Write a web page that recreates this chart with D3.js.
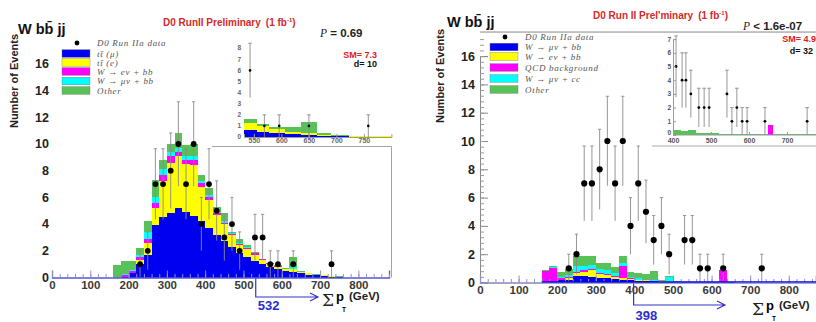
<!DOCTYPE html>
<html>
<head>
<meta charset="utf-8">
<script src="https://cdn.jsdelivr.net/npm/d3@7"></script>
<style>
  body { margin: 0; background: #fff; }
  svg { display: block; font-family: "Liberation Sans", Arial, sans-serif; }
</style>
</head>
<body>
<svg id="chart" width="816" height="322"></svg>
<script>
/* W bb jj — sum pT, two panels (left: ttbar-like MC, right: W+bb MC) */

// data points (same events in both panels)
const dataX = [230, 250, 270, 290, 310, 330, 350, 370, 390, 410, 430, 450, 470, 490, 530, 550, 570, 590, 630, 730];
const dataN = [1, 2, 7, 7, 8, 10, 7, 10, 4, 7, 5, 3, 4, 2, 3, 3, 1, 1, 1, 1];

// left panel stack, 20 GeV bins
const leftEdges = [160, 180, 200, 220, 240, 260, 280, 300, 320, 340, 360, 380, 400, 420, 440, 460,
  480, 500, 520, 540, 560, 580, 600, 620, 640, 660, 680, 700, 720, 740, 760];
const leftBlue = [0, 0.05, 0.3, 1.0, 1.7, 3.9, 4.5, 4.8, 5.2, 4.9, 4.6, 4.2, 3.7, 3.2, 2.7, 2.3, 1.8, 1.5, 1.2, 1.0, 0.8, 0.6, 0.5, 0.4, 0.3, 0.2, 0.15, 0.1, 0.05, 0.03];
const leftYellow = [0, 0, 0.05, 0.3, 0.9, 1.3, 2.7, 3.8, 3.9, 3.6, 3.8, 2.6, 2.1, 1.5, 1.3, 0.9, 0.6, 0.6, 0.5, 0.3, 0.2, 0.2, 0.15, 0.2, 0.1, 0.1, 0.05, 0.05, 0.03, 0.02];
const leftMagenta = [0, 0.1, 0.1, 0.2, 0.3, 0.4, 0.5, 0.5, 0.3, 0.3, 0.4, 0.3, 0.2, 0.1, 0.1, 0.05, 0.1, 0.1, 0.1, 0.05, 0.05, 0.05, 0, 0.05, 0, 0, 0, 0, 0, 0];
const leftCyan = [0, 0.1, 0.1, 0.2, 0.5, 0.4, 0.4, 0.3, 0.3, 0.3, 0.3, 0.1, 0.2, 0.1, 0.1, 0.05, 0.05, 0.1, 0.05, 0, 0, 0, 0, 0.1, 0, 0, 0, 0, 0, 0];
const leftGreen = [0.9, 0.95, 0.65, 0.5, 0.8, 1.3, 0.7, 0.6, 1.1, 0.8, 0.9, 0.5, 0.5, 0.4, 0.6, 0.1, 0.35, 0.1, 0.05, 0.05, 0.05, 0.05, 0.05, 0.8, 0.05, 0.05, 0.05, 0.05, 0.05, 0.03];

// right panel stack
const rightEdges = [160, 180, 200, 220, 240, 260, 280, 300, 320, 340, 360, 380, 400, 420, 440, 460,
  480, 500, 520, 540, 560, 580, 600, 620, 640, 660];
const rightBlue = [0, 0.05, 0.15, 0.2, 0.45, 0.45, 0.4, 0.35, 0.3, 0.25, 0.2, 0.15, 0.1, 0.1, 0.08, 0.05, 0.05, 0.03, 0.02, 0.02, 0.02, 0.02, 0.02, 0, 0.02];
const rightYellow = [0, 0, 0.05, 0.1, 0.2, 0.3, 0.45, 0.25, 0.2, 0.15, 0.1, 0.1, 0.05, 0.05, 0.05, 0.03, 0.03, 0.02, 0.01, 0.01, 0.01, 0, 0, 0, 0];
const rightMagenta = [0.8, 1.0, 0.1, 0.1, 0.1, 0.1, 0.1, 0.05, 0.1, 0.05, 0.9, 0.05, 0.05, 0, 0, 0, 0, 0, 0, 0, 0, 0, 0, 0.9, 0];
const rightCyan = [0, 0.05, 0.1, 0.15, 0.4, 0.35, 0.3, 0.3, 0.25, 0.2, 0.15, 0.1, 0.1, 0.05, 0.05, 0.05, 0.3, 0.03, 0.02, 0.01, 0.01, 0.01, 0.01, 0, 0];
const rightGreen = [0.05, 0.07, 0.35, 0.38, 0.72, 0.67, 0.6, 0.4, 0.5, 0.45, 0.52, 0.32, 0.35, 0.37, 0.66, 0.05, 0.08, 0.02, 0.02, 0.02, 0.02, 0.02, 0.02, 0, 0.02];

// left inset (sum pT > 532)
const lInsetEdges = [532, 555, 578, 606, 636, 664, 690, 722, 800];
const lInsetBlue = [0.63, 0.42, 0.33, 0.24, 0.15, 0.1, 0.05, 0.03];
const lInsetYellow = [0.67, 0.58, 0.39, 0.24, 0.2, 0.1, 0.05, 0.02];
const lInsetGreen = [0.32, 0.17, 0.21, 0.45, 0.97, 0.13, 0.08, 0.05];
const lInsetX = [543, 569, 596, 650, 758];
const lInsetN = [6, 1, 1, 1, 1];

// right inset (sum pT > 398)
const rInsetEdges = [400, 420, 440, 460, 480, 520, 560, 640, 650, 662, 800];
const rInsetMagenta = [0, 0, 0, 0, 0, 0, 0, 0, 0.73, 0];
const rInsetGreen = [0.35, 0.3, 0.35, 0.15, 0.12, 0.1, 0.1, 0.05, 0, 0.05];
const rInsetX = [408, 424, 434, 447, 468, 482, 495, 542, 555, 568, 582, 595, 642, 753];
const rInsetN = [5, 4, 4, 3, 2, 2, 2, 3, 1, 2, 1, 1, 1, 1];

const yTicks = [0, 2, 4, 6, 8, 10, 12, 14, 16];
const xTicks = [0, 100, 200, 300, 400, 500, 600, 700, 800];

const leftLegend = ["D0 Run IIa data", "tt\u0304 (\u03bc)", "tt\u0304 (e)", "W \u2192 e\u03bd  +  bb", "W \u2192 \u03bc\u03bd  +  bb", "Other"];
const rightLegend = ["D0 Run IIa data", "W \u2192 \u03bc\u03bd + bb", "W \u2192 e\u03bd  +  bb", "QCD background", "W \u2192 \u03bc\u03bd  +  cc", "Other"];

const KEYS = ["blue", "yellow", "magenta", "cyan", "green"];
const COLORS = { blue: "#0000f0", yellow: "#ffff00", magenta: "#ff00ff", cyan: "#00ffff", green: "#58c158" };

const svg = d3.select("#chart");

function drawStack(g, xs, ys, edges, comps) {
  const rows = edges.slice(0, -1).map((e, i) => {
    const r = { x0: e, x1: edges[i + 1] };
    KEYS.forEach(k => r[k] = comps[k] ? comps[k][i] : 0);
    return r;
  });
  const series = d3.stack().keys(KEYS)(rows);
  g.append("g").attr("shape-rendering", "crispEdges").selectAll("g")
    .data(series)
    .join("g")
    .attr("fill", d => COLORS[d.key])
    .selectAll("rect")
    .data(d => d.filter(s => s[1] - s[0] > 0))
    .join("rect")
    .attr("x", d => xs(d.data.x0))
    .attr("width", d => xs(d.data.x1) - xs(d.data.x0))
    .attr("y", d => ys(d[1]))
    .attr("height", d => ys(d[0]) - ys(d[1]));
}

function drawPoints(g, xs, ys, xv, nv, r, cap) {
  const pts = xv.map((x, i) => ({ x, n: nv[i] }));
  const eb = g.append("g").attr("stroke", "#8a8a8a").attr("stroke-width", 0.9);
  pts.forEach(p => {
    const lo = Math.max(0, p.n - Math.sqrt(p.n));
    const hi = p.n + Math.sqrt(p.n);
    eb.append("line").attr("x1", xs(p.x)).attr("x2", xs(p.x)).attr("y1", ys(lo)).attr("y2", ys(hi));
    eb.append("line").attr("x1", xs(p.x) - cap).attr("x2", xs(p.x) + cap).attr("y1", ys(hi)).attr("y2", ys(hi));
  });
  g.append("g").selectAll("circle")
    .data(pts)
    .join("circle")
    .attr("cx", d => xs(d.x))
    .attr("cy", d => ys(d.n))
    .attr("r", r)
    .attr("fill", "#000");
}

function drawXAxis(g, xs, y0, minorMax, lineColor) {
  const ax = g.append("g").attr("transform", `translate(0,${y0})`)
    .call(d3.axisBottom(xs).tickValues(xTicks).tickSize(-7).tickPadding(3.5).tickFormat(d3.format("d")));
  ax.select(".domain").attr("stroke", lineColor).attr("stroke-width", 1.3);
  ax.selectAll(".tick line").attr("stroke", "#9090c8");
  ax.selectAll("text").attr("font-weight", "bold").attr("font-size", 11.5).attr("fill", "#3a3a3a")
    .attr("font-family", "Liberation Sans, Arial, sans-serif");
  g.append("g").attr("transform", `translate(0,${y0})`)
    .call(d3.axisBottom(xs).tickValues(d3.range(0, minorMax, 20)).tickSize(-3.5).tickFormat(""))
    .call(a => a.select(".domain").remove())
    .selectAll(".tick line").attr("stroke", "#9090c8");
}

function drawLegend(g, x0, yDot, rows, names) {
  g.append("circle").attr("cx", x0 + 15).attr("cy", yDot).attr("r", 2.4).attr("fill", "#000");
  rows.forEach((yy, i) => {
    g.append("rect").attr("x", x0).attr("y", yy - 3.8).attr("width", 28).attr("height", 7.6)
      .attr("fill", COLORS[KEYS[i]]).attr("stroke", "#777").attr("stroke-width", 0.4);
  });
  const ys = [yDot].concat(rows);
  names.forEach((t, i) => {
    g.append("text").attr("x", x0 + 35).attr("y", ys[i]).attr("dy", "0.35em")
      .attr("font-family", "Liberation Serif, Times New Roman, serif").attr("font-style", "italic")
      .attr("font-size", 9).attr("letter-spacing", 0.7).attr("fill", "#555").text(t);
  });
}

function sumLabel(g, x, y) {
  g.append("text").attr("x", x + 1).attr("y", y + 9).attr("font-family", "DejaVu Serif, serif")
    .attr("font-size", 17).attr("fill", "#222").text("\u03a3");
  g.append("text").attr("x", x + 15).attr("y", y + 4).attr("font-weight", "bold").attr("font-size", 13).text("p");
  g.append("text").attr("x", x + 21).attr("y", y + 15).attr("font-weight", "bold").attr("font-size", 6.5).text("T");
  g.append("text").attr("x", x + 28).attr("y", y + 3).attr("font-weight", "bold").attr("font-size", 11.5).attr("fill", "#222").text("(GeV)");
}

function cutArrow(g, x, yTop, yArr, xEnd, label, labelY) {
  g.append("path")
    .attr("d", `M${x},${yTop}V${yArr}H${xEnd}M${xEnd - 8},${yArr - 4}L${xEnd},${yArr}L${xEnd - 8},${yArr + 4}`)
    .attr("fill", "none").attr("stroke", "#3535c8").attr("stroke-width", 1.2);
  g.append("text").attr("x", x + 2).attr("y", labelY).attr("dy", "0.35em")
    .attr("font-weight", "bold").attr("font-size", 13).attr("fill", "#2b2bcf").text(label);
}

function wbbLabel(g, x, y) {
  g.append("text").attr("x", x).attr("y", y).attr("font-weight", "bold").attr("font-size", 14.5).attr("fill", "#111")
    .text("W bb\u0304 jj");
}

function runTitle(g, x, y, txt) {
  const t = g.append("text").attr("x", x).attr("y", y).attr("font-weight", "bold").attr("font-size", 10).attr("fill", "#d42a2a");
  t.append("tspan").text(txt);
  t.append("tspan").attr("dx", 5).text("(1 fb");
  t.append("tspan").attr("dy", -4).attr("font-size", 6).text("-1");
  t.append("tspan").attr("dy", 4).text(")");
}

/* ── left panel ── */
{
  const g = svg.append("g");
  const xs = d3.scaleLinear().domain([0, 880]).range([52, 389]);
  const ys = d3.scaleLinear().domain([0, 16]).range([277.5, 63.9]);

  drawStack(g, xs, ys, leftEdges, { blue: leftBlue, yellow: leftYellow, magenta: leftMagenta, cyan: leftCyan, green: leftGreen });
  drawPoints(g, xs, ys, dataX, dataN, 2.9, 1.6);

  // frame pieces
  g.append("path").attr("d", `M212,146.5H391.5V${ys(0)}`).attr("fill", "none").attr("stroke", "#999").attr("stroke-width", 0.9);
  drawXAxis(g, xs, ys(0), 881, "#5656d6");

  g.selectAll(".ylab").data(yTicks).join("text")
    .attr("x", 49).attr("y", d => ys(d)).attr("dy", "0.35em").attr("text-anchor", "end")
    .attr("font-weight", "bold").attr("font-size", 12.5).attr("fill", "#222").text(d => d);

  g.append("text").attr("transform", "translate(18,81) rotate(-90)").attr("text-anchor", "middle")
    .attr("font-weight", "bold").attr("font-size", 11).attr("fill", "#222").text("Number of Events");

  wbbLabel(g, 18, 34);
  runTitle(g, 163, 26, "D0 RunII Preliminary");

  const pt = g.append("text").attr("x", 320).attr("y", 37).attr("font-size", 11.5).attr("fill", "#222");
  pt.append("tspan").attr("font-family", "Liberation Serif, serif").attr("font-style", "italic").text("P");
  pt.append("tspan").attr("font-weight", "bold").text(" = 0.69");
  g.append("text").attr("x", 377).attr("y", 58).attr("text-anchor", "end").attr("font-weight", "bold").attr("font-size", 9).attr("fill", "#e02020").text("SM= 7.3");
  g.append("text").attr("x", 377).attr("y", 67).attr("text-anchor", "end").attr("font-weight", "bold").attr("font-size", 9).attr("fill", "#111").text("d= 10");

  drawLegend(g, 62, 43, [53.5, 62.5, 71.5, 81, 90.5], leftLegend);

  // inset
  const ix = d3.scaleLinear().domain([532, 800]).range([244, 391.4]);
  const iy = d3.scaleLinear().domain([0, 8]).range([137, 48.2]);
  drawStack(g, ix, iy, lInsetEdges, { blue: lInsetBlue, yellow: lInsetYellow, green: lInsetGreen });
  drawPoints(g, ix, iy, lInsetX, lInsetN, 1.3, 1.8);
  const iax = g.append("g").attr("transform", `translate(0,${iy(0)})`)
    .call(d3.axisBottom(ix).tickValues([550, 600, 650, 700, 750]).tickSize(-3).tickPadding(1.5));
  iax.select(".domain").attr("stroke", "#9a9a9a");
  iax.selectAll(".tick line").attr("stroke", "#9a9a9a");
  iax.selectAll("text").attr("font-size", 7).attr("font-weight", "bold").attr("fill", "#666");
  g.selectAll(".iylab").data(d3.range(0, 9)).join("text")
    .attr("x", 241).attr("y", d => iy(d)).attr("dy", "0.35em").attr("text-anchor", "end")
    .attr("font-size", 6.5).attr("font-weight", "bold").attr("fill", "#666").text(d => d);

  cutArrow(g, xs(532), ys(0) + 1, 297, 318, "532", 305);
  sumLabel(g, 321, 297);
}

/* ── right panel ── */
{
  const g = svg.append("g");
  const xs = d3.scaleLinear().domain([0, 870]).range([480, 815.8]);
  const ys = d3.scaleLinear().domain([0, 16]).range([282.5, 56.1]);

  drawStack(g, xs, ys, rightEdges, { blue: rightBlue, yellow: rightYellow, magenta: rightMagenta, cyan: rightCyan, green: rightGreen });
  drawPoints(g, xs, ys, dataX, dataN, 3.1, 1.6);

  // top frame
  g.append("line").attr("x1", xs(0)).attr("x2", 816).attr("y1", ys(17.7)).attr("y2", ys(17.7))
    .attr("stroke", "#888").attr("stroke-width", 1);

  const yax = g.append("g").attr("transform", `translate(${xs(0)},0)`)
    .call(d3.axisLeft(ys).tickValues(yTicks).tickSize(-8).tickPadding(5));
  yax.select(".domain").attr("stroke", "#888");
  yax.selectAll(".tick line").attr("stroke", "#888");
  yax.selectAll("text").attr("font-weight", "bold").attr("font-size", 12.5).attr("fill", "#222")
    .attr("font-family", "Liberation Sans, Arial, sans-serif");
  g.append("g").attr("transform", `translate(${xs(0)},0)`)
    .call(d3.axisLeft(ys).tickValues(d3.range(0, 17.6, 0.4)).tickSize(-4).tickFormat(""))
    .call(a => a.select(".domain").remove())
    .selectAll(".tick line").attr("stroke", "#999");

  drawXAxis(g, xs, ys(0), 871, "#8888bb");
  // blue floor of the W+bb stack along the baseline
  g.append("line").attr("x1", xs(160)).attr("x2", 816).attr("y1", ys(0) - 0.6).attr("y2", ys(0) - 0.6)
    .attr("stroke", COLORS.blue).attr("stroke-width", 1.3);

  g.append("text").attr("transform", "translate(444,76) rotate(-90)").attr("text-anchor", "middle")
    .attr("font-weight", "bold").attr("font-size", 11).attr("fill", "#222").text("Number of Events");

  wbbLabel(g, 447, 27);
  runTitle(g, 593, 19, "D0 Run II Prel'minary");

  const pt = g.append("text").attr("x", 743).attr("y", 30).attr("font-size", 11.5).attr("fill", "#222");
  pt.append("tspan").attr("font-family", "Liberation Serif, serif").attr("font-style", "italic").text("P");
  pt.append("tspan").attr("font-weight", "bold").text(" < 1.6e-07");

  drawLegend(g, 490, 37, [47, 56.5, 67.5, 78.5, 89.5], rightLegend);

  // inset
  g.append("rect").attr("x", 652).attr("y", 33).attr("width", 164).attr("height", 113).attr("fill", "#fff");
  g.append("line").attr("x1", 652).attr("x2", 816).attr("y1", 146).attr("y2", 146).attr("stroke", "#aaa");
  const ix = d3.scaleLinear().domain([400, 760]).range([673, 809.8]);
  const iy = d3.scaleLinear().domain([0, 7]).range([135, 39.1]);
  drawStack(g, ix, iy, rInsetEdges, { magenta: rInsetMagenta, green: rInsetGreen });
  drawPoints(g, ix, iy, rInsetX, rInsetN, 1.4, 1.8);
  const iax = g.append("g").attr("transform", `translate(0,${iy(0)})`)
    .call(d3.axisBottom(ix).tickValues([400, 500, 600, 700]).tickSize(-3).tickPadding(3));
  iax.select(".domain").attr("d", `M${ix(400)},0H816`).attr("stroke", "#9a9a9a");
  iax.selectAll(".tick line").attr("stroke", "#9a9a9a");
  iax.selectAll("text").attr("font-size", 7).attr("font-weight", "bold").attr("fill", "#555");
  const iyax = g.append("g").attr("transform", `translate(${ix(400)},0)`)
    .call(d3.axisLeft(iy).tickValues(d3.range(0, 8)).tickSize(-3).tickPadding(2).tickFormat(d3.format("d")));
  iyax.select(".domain").attr("stroke", "#9a9a9a");
  iyax.selectAll(".tick line").attr("stroke", "#9a9a9a");
  iyax.selectAll("text").attr("font-size", 6.5).attr("font-weight", "bold").attr("fill", "#555");
  iyax.selectAll(".tick").filter(d => d === 0).select("text").attr("dy", "-0.05em");

  g.append("text").attr("x", 816).attr("y", 42).attr("text-anchor", "end").attr("font-weight", "bold").attr("font-size", 9).attr("fill", "#e02020").text("SM= 4.9");
  g.append("text").attr("x", 813).attr("y", 54).attr("text-anchor", "end").attr("font-weight", "bold").attr("font-size", 9).attr("fill", "#111").text("d= 32");

  cutArrow(g, xs(398), ys(0) + 1, 305, 725, "398", 315);
  sumLabel(g, 751, 306);
}
</script>
</body>
</html>
